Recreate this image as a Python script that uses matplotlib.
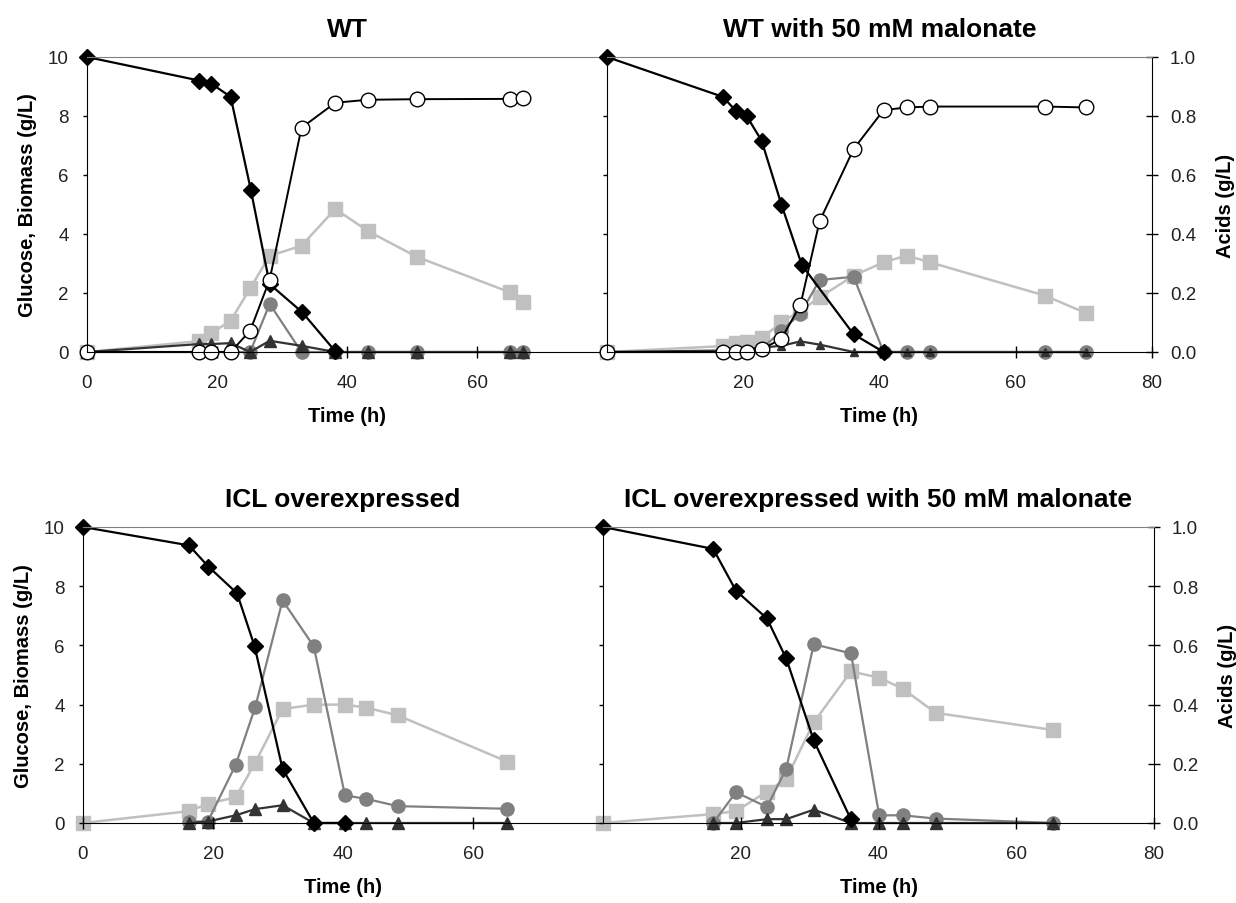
import numpy as np
import matplotlib.pyplot as plt
from matplotlib.ticker import FormatStrFormatter

plt.rcParams['font.family'] = ['Liberation Sans', 'DejaVu Sans']

nan = np.nan

# WT
wt_t_glc = [0, 17.3, 19.1, 22.1, 25.2, 28.1, 33.1, 38.1]
wt_glc = [10, 9.2, 9.1, 8.65, 5.5, 2.3, 1.35, 0.05]
wt_t = [0, 17.3, 19.1, 22.1, 25.1, 28.1, 33.0, 38.2, 43.2, 50.8, 65.1, 67.1]
wt_bio = [0, 0, 0, 0, 0.72, 2.45, 7.6, 8.45, 8.55, 8.57, 8.58, 8.62]
wt_sq = [0, 0.037, 0.063, 0.106, 0.216, 0.326, 0.36, 0.485, 0.41, 0.322, 0.202, 0.168]
wt_ci = [0, 0, 0, 0, 0, 0.163, 0, 0, 0, 0, 0, 0]
wt_tri = [0, 0.027, 0.027, 0.03, 0, 0.038, 0.021, 0, 0, 0, 0, 0]

# WT with 50 mM malonate
wtm_t_glc = [0, 17.0, 18.9, 20.5, 22.7, 25.6, 28.6, 36.2, 40.6]
wtm_glc = [10, 8.65, 8.18, 8.0, 7.16, 5.0, 2.95, 0.6, 0]
wtm_t = [0, 17.0, 18.9, 20.5, 22.7, 25.6, 28.4, 31.2, 36.2, 40.6, 44.0, 47.4, 64.3, 70.3]
wtm_bio = [0, 0, 0, 0, 0.09, 0.45, 1.6, 4.43, 6.88, 8.2, 8.29, 8.32, 8.32, 8.29]
wtm_sq = [0, 0.02, 0.03, 0.035, 0.047, 0.1, 0.14, 0.185, 0.259, 0.304, 0.327, 0.304, 0.191, 0.132]
wtm_ci = [0, 0, 0, 0, 0.01, 0.072, 0.13, 0.244, 0.255, 0, 0, 0, 0, 0]
wtm_tri = [0, 0.005, 0.008, 0.01, 0.015, 0.021, 0.036, 0.025, 0, 0, 0, 0, 0, 0]

# ICL overexpressed
icl_t_glc = [0, 16.3, 19.3, 23.7, 26.4, 30.7, 35.5, 40.3]
icl_glc = [10, 9.38, 8.66, 7.76, 5.97, 1.83, 0, 0]
icl_t = [0, 16.3, 19.2, 23.5, 26.5, 30.7, 35.5, 40.3, 43.5, 48.4, 65.3]
icl_sq = [0, 0.04, 0.065, 0.087, 0.204, 0.385, 0.40, 0.40, 0.39, 0.364, 0.207]
icl_ci = [nan, 0.005, 0.005, 0.197, 0.392, 0.752, 0.597, 0.093, 0.082, 0.057, 0.048]
icl_tri = [nan, 0, 0.005, 0.026, 0.047, 0.06, 0, 0, 0, 0, 0]

# ICL overexpressed with 50 mM malonate
iclm_t_glc = [0, 16.0, 19.3, 23.8, 26.6, 30.6, 36.0]
iclm_glc = [10, 9.26, 7.85, 6.91, 5.56, 2.79, 0.12]
iclm_t = [0, 16.0, 19.3, 23.8, 26.6, 30.6, 36.0, 40.1, 43.5, 48.3, 65.4]
iclm_sq = [0, 0.03, 0.04, 0.106, 0.149, 0.34, 0.512, 0.491, 0.454, 0.372, 0.314]
iclm_ci = [nan, 0, 0.104, 0.054, 0.183, 0.604, 0.573, 0.026, 0.026, 0.015, 0]
iclm_tri = [nan, 0, 0, 0.013, 0.013, 0.045, 0, 0, 0, 0, 0]

W, H = 1236, 904
fig = plt.figure(figsize=(W / 100, H / 100), dpi=100)


def px_axes(x0, x1, y0, y1):
    # pixel box (left, right, top, bottom) -> figure axes
    return fig.add_axes([x0 / W, 1 - y1 / H, (x1 - x0) / W, (y1 - y0) / H])


def panel(ax, title, t_glc, glc, t, sq, ci, tri, bio=None, side='left', tri_ms=9):
    ax2 = ax.twinx()
    ax.set_zorder(ax2.get_zorder() + 1)
    ax.patch.set_visible(False)

    # acids on the secondary scale, glucose / biomass on top
    ax2.plot(t, sq, color='#c0c0c0', marker='s', ms=9.5, lw=1.8, clip_on=False)
    ax2.plot(t, ci, color='#808080', marker='o', ms=9.5, lw=1.6, clip_on=False)
    ax2.plot(t, tri, color='#333333', marker='^', ms=tri_ms, lw=1.6, clip_on=False)
    ax.plot(t_glc, glc, color='black', marker='D', ms=8.5, lw=1.6, clip_on=False)
    if bio is not None:
        ax.plot(t, bio, color='black', marker='o', mfc='white', mec='black',
                mew=1.0, ms=10.5, lw=1.4, clip_on=False)

    ax.set_xlim(0, 80)
    ax.set_ylim(0, 10)
    ax2.set_ylim(0, 1)

    for s in ax2.spines.values():
        s.set_visible(False)
    ax.spines['top'].set_color('#808080')
    ax.spines['right'].set_visible(False)
    ax.spines['left'].set_color('black')
    ax.spines['bottom'].set_color('black')

    ax.set_yticks(np.arange(0, 11, 2))
    ax.tick_params(axis='x', direction='inout', length=8, width=1,
                   labelsize=13.5, labelcolor='#222222', pad=12)
    ax.tick_params(axis='y', direction='out', length=3, width=1,
                   labelsize=13.5, labelcolor='#222222', pad=10)

    if side == 'left':
        ax.set_xticks([0, 20, 40, 60])
        ax.set_ylabel('Glucose, Biomass (g/L)', fontsize=14.5, fontweight='bold', labelpad=8)
        ax2.tick_params(right=False, labelright=False)
    else:
        ax.set_xticks([20, 40, 60, 80])
        ax.tick_params(axis='y', labelleft=False)
        ax2.spines['right'].set_visible(True)
        ax2.spines['right'].set_color('black')
        ax2.set_yticks(np.arange(0, 1.01, 0.2))
        ax2.yaxis.set_major_formatter(FormatStrFormatter('%.1f'))
        ax2.tick_params(axis='y', direction='inout', length=8, width=1,
                        labelsize=13.5, labelcolor='#222222', pad=9)
        ax2.set_ylabel('Acids (g/L)', fontsize=14.5, fontweight='bold', labelpad=14)

    ax.set_xlabel('Time (h)', fontsize=14.5, fontweight='bold', labelpad=11)
    ax.set_title(title, fontsize=19, fontweight='bold', pad=15)


ax_tl = px_axes(87, 607, 58, 353)
ax_tr = px_axes(607, 1152, 58, 353)
ax_bl = px_axes(83, 603, 528, 824)
ax_br = px_axes(603, 1154, 528, 824)

panel(ax_tl, 'WT', wt_t_glc, wt_glc, wt_t, wt_sq, wt_ci, wt_tri, bio=wt_bio)
panel(ax_tr, 'WT with 50 mM malonate', wtm_t_glc, wtm_glc, wtm_t, wtm_sq, wtm_ci,
      wtm_tri, bio=wtm_bio, side='right', tri_ms=6)
panel(ax_bl, 'ICL overexpressed', icl_t_glc, icl_glc, icl_t, icl_sq, icl_ci, icl_tri)
panel(ax_br, 'ICL overexpressed with 50 mM malonate', iclm_t_glc, iclm_glc, iclm_t,
      iclm_sq, iclm_ci, iclm_tri, side='right')

fig.savefig('out.png', dpi=100)
